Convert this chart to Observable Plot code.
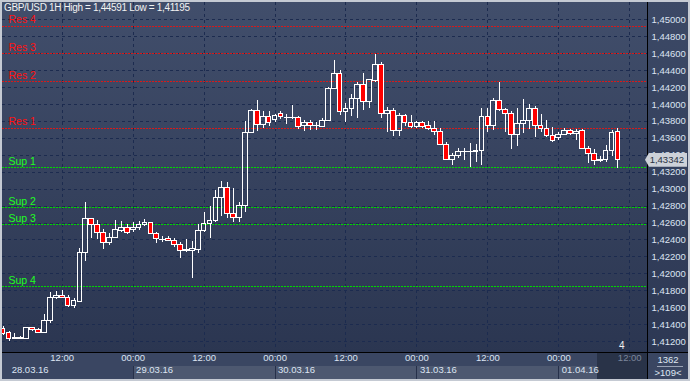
<!DOCTYPE html>
<html><head><meta charset="utf-8">
<script src="https://cdn.jsdelivr.net/npm/d3@7"></script>
<script src="https://cdn.jsdelivr.net/npm/@observablehq/plot@0.6"></script>
<style>
body{margin:0;background:#c5cad3;}
#wrap{position:relative;width:690px;height:381px;overflow:hidden;background:#c5cad3;font-family:"Liberation Sans",Arial,sans-serif;}
.abs{position:absolute;}
#chart svg{position:absolute;left:0;top:0;}
</style></head><body>
<div id="wrap">
  <div class="abs" style="left:2px;top:2px;width:645px;height:350px;background:linear-gradient(#414e6b,#2b3651);"></div>
  <div class="abs" style="left:648px;top:2px;width:40px;height:350px;background:linear-gradient(#3c4966,#2d3854);"></div>
  <div class="abs" style="left:2px;top:353px;width:645px;height:26px;background:#3a4662;"></div>
  <div class="abs" style="left:133px;top:366px;width:464px;height:13px;background:#4d5870;"></div>
  <div class="abs" style="left:597px;top:353px;width:50px;height:26px;background:#293348;"></div>
  <div class="abs" style="left:648px;top:353px;width:40px;height:26px;background:#3a4662;"></div>
  <div class="abs" style="left:647px;top:2px;width:1px;height:377px;background:#000;"></div>
  <div class="abs" style="left:2px;top:352px;width:686px;height:1px;background:#000;"></div>
  <div id="chart"></div>
  <div id="title" class="abs" style="left:4px;top:2px;color:#f2f2f2;font-size:10px;letter-spacing:-0.35px;white-space:nowrap;"></div>
  <div id="ind" class="abs" style="left:619px;top:340px;color:#f0f0f0;font-size:10px;"></div>
  <div id="price" class="abs" style="left:645px;width:42px;height:14px;background:#cdd1d8;clip-path:polygon(0 50%,4px 0,100% 0,100% 100%,4px 100%);color:#2a3242;font-size:9.5px;line-height:14px;text-align:right;box-sizing:border-box;padding-right:3px;"></div>
  <div id="bars" class="abs" style="left:648px;top:354px;width:40px;text-align:center;color:#dfe6f2;font-size:9.5px;"></div>
  <div class="abs" style="left:657px;top:366px;width:26px;height:1px;background:#9aa3b5;"></div>
  <div id="vis" class="abs" style="left:648px;top:367px;width:40px;text-align:center;color:#dfe6f2;font-size:9.5px;"></div>
</div>
<script>
const title = "GBP/USD 1H High = 1,44591 Low = 1,41195";
const startHour = 2; // first candle: 28.03.16 02:00
const opens = [1.41354,1.41298,1.41240,1.41236,1.41232,1.41362,1.41339,1.41307,1.41440,1.41720,
1.41744,1.41717,1.41622,1.41673,1.42248,1.42650,1.42574,1.42484,1.42364,1.42425,
1.42508,1.42543,1.42515,1.42543,1.42580,1.42606,1.42470,1.42405,1.42413,1.42390,
1.42343,1.42275,1.42272,1.42287,1.42508,1.42586,1.42626,1.42898,1.43016,1.42709,
1.42662,1.42800,1.43661,1.43925,1.43760,1.43854,1.43814,1.43893,1.43846,1.43842,
1.43843,1.43748,1.43784,1.43746,1.43736,1.43807,1.44185,1.44362,1.43913,1.43949,
1.44067,1.44232,1.44027,1.44275,1.44469,1.43890,1.43925,1.43684,1.43866,1.43784,
1.43736,1.43784,1.43740,1.43716,1.43677,1.43524,1.43347,1.43386,1.43436,1.43434,
1.43436,1.43448,1.43854,1.43743,1.44035,1.43937,1.43890,1.43642,1.43772,1.43799,
1.43949,1.43743,1.43713,1.43625,1.43606,1.43642,1.43684,1.43649,1.43684,1.43476,
1.43417,1.43335,1.43342,1.43453,1.43673];
const highs = [1.41378,1.41319,1.41295,1.41263,1.41366,1.41369,1.41358,1.41523,1.41783,1.41795,
1.41803,1.41744,1.41712,1.42302,1.42839,1.42653,1.42630,1.42520,1.42473,1.42626,
1.42614,1.42579,1.42602,1.42621,1.42638,1.42610,1.42488,1.42444,1.42441,1.42413,
1.42366,1.42402,1.42385,1.42582,1.42724,1.42795,1.42984,1.43090,1.43075,1.43004,
1.42842,1.43799,1.43937,1.44047,1.43917,1.43917,1.43878,1.43917,1.43878,1.43988,
1.43858,1.43807,1.43807,1.43784,1.43831,1.44204,1.44519,1.44401,1.44008,1.44121,
1.44263,1.44362,1.44289,1.44591,1.44492,1.43961,1.43949,1.43890,1.43878,1.43866,
1.43799,1.43799,1.43799,1.43799,1.43713,1.43554,1.43417,1.43484,1.43484,1.43536,
1.43527,1.43949,1.43949,1.44067,1.44263,1.43949,1.43917,1.43949,1.44059,1.43996,
1.43980,1.43878,1.43814,1.43725,1.43673,1.43713,1.43704,1.43701,1.43701,1.43504,
1.43468,1.43389,1.43515,1.43693,1.43713];
const lows = [1.41271,1.41195,1.41224,1.41221,1.41230,1.41319,1.41295,1.41303,1.41417,1.41697,
1.41705,1.41602,1.41594,1.41665,1.42149,1.42417,1.42405,1.42293,1.42340,1.42413,
1.42484,1.42461,1.42491,1.42512,1.42559,1.42464,1.42354,1.42370,1.42382,1.42314,
1.42177,1.42248,1.41948,1.42243,1.42488,1.42421,1.42606,1.42680,1.42657,1.42602,
1.42606,1.42728,1.43654,1.43681,1.43720,1.43740,1.43791,1.43826,1.43763,1.43826,
1.43708,1.43684,1.43693,1.43693,1.43725,1.43799,1.44173,1.43866,1.43791,1.43862,
1.43838,1.43929,1.43949,1.44256,1.43838,1.43673,1.43622,1.43622,1.43743,1.43713,
1.43722,1.43716,1.43696,1.43634,1.43515,1.43338,1.43279,1.43365,1.43338,1.43259,
1.43311,1.43279,1.43673,1.43693,1.43917,1.43665,1.43465,1.43504,1.43654,1.43701,
1.43606,1.43673,1.43606,1.43554,1.43575,1.43634,1.43634,1.43578,1.43465,1.43299,
1.43279,1.43311,1.43318,1.43389,1.43240];
const closes = [1.41295,1.41232,1.41236,1.41240,1.41362,1.41339,1.41307,1.41445,1.41717,1.41744,
1.41720,1.41622,1.41681,1.42248,1.42650,1.42579,1.42484,1.42364,1.42425,1.42512,
1.42543,1.42484,1.42547,1.42571,1.42606,1.42473,1.42411,1.42403,1.42390,1.42343,
1.42275,1.42277,1.42295,1.42508,1.42591,1.42626,1.42898,1.43016,1.42709,1.42662,
1.42801,1.43665,1.43925,1.43760,1.43854,1.43784,1.43866,1.43854,1.43842,1.43838,
1.43736,1.43784,1.43748,1.43742,1.43807,1.44185,1.44362,1.43913,1.43949,1.44067,
1.44232,1.44027,1.44283,1.44469,1.43890,1.43925,1.43684,1.43866,1.43784,1.43736,
1.43784,1.43736,1.43716,1.43677,1.43524,1.43347,1.43386,1.43436,1.43434,1.43436,
1.43453,1.43854,1.43743,1.44035,1.43932,1.43890,1.43642,1.43772,1.43799,1.43949,
1.43743,1.43713,1.43625,1.43563,1.43642,1.43684,1.43649,1.43673,1.43476,1.43417,
1.43335,1.43339,1.43453,1.43665,1.43342];

const levelNames = ["Res 4","Res 3","Res 2","Res 1","Sup 1","Sup 2","Sup 3","Sup 4"];
const levelValues = [1.44921,1.44598,1.44268,1.43720,1.43252,1.42783,1.42579,1.41847];

const yTicks = [1.412,1.414,1.416,1.418,1.420,1.422,1.424,1.426,1.428,1.430,
1.432,1.434,1.436,1.438,1.440,1.442,1.444,1.446,1.448,1.450];
const timeTickHours = [12,24,36,48,60,72,84,96,108];
const timeTickLabels = ["12:00","00:00","12:00","00:00","12:00","00:00","12:00","00:00","12:00"];
const dayStartHours = [0,24,48,72,96];
const dateLabels = ["28.03.16","29.03.16","30.03.16","31.03.16","01.04.16"];
const lastBarHour = 106;
const barsTotal = "1362";
const barsVisible = ">109<";
const indicatorText = "4";

const candles = opens.map((o, i) => ({h: startHour + i, open: o, high: highs[i], low: lows[i], close: closes[i]}));
const upC = candles.filter(d => d.close >= d.open);
const downC = candles.filter(d => d.close < d.open);
const levels = levelNames.map((n, i) => ({name: n, value: levelValues[i]}));
const res = levels.filter(d => d.name.startsWith("Res"));
const sup = levels.filter(d => d.name.startsWith("Sup"));
const fmt = v => v.toFixed(5).replace(".", ",");
const ticks = timeTickHours.map((h, i) => ({h, label: timeTickLabels[i]}));
const pastTicks = ticks.filter(d => d.h <= lastBarHour);
const futureTicks = ticks.filter(d => d.h > lastBarHour);
const xLeft = 1.9;
const firstDate = [{h: xLeft + 1.55, label: dateLabels[0]}];
const otherDates = dayStartHours.slice(1).map((h, i) => ({h: h + 0.5, label: dateLabels[i + 1]}));

const gridC = "#1c2b4f";
const txtC = "#dce4f2";
const chart = Plot.plot({
  width: 690, height: 381,
  marginLeft: 2, marginRight: 43, marginTop: 2, marginBottom: 29,
  style: {background: "transparent", fontFamily: "Liberation Sans, Arial, sans-serif", fontSize: "9.5px", overflow: "visible"},
  x: {type: "linear", domain: [xLeft, 111.0], axis: null},
  y: {type: "linear", domain: [1.41071, 1.45204], axis: null},
  marks: [
    Plot.ruleY(yTicks, {y: d => d, stroke: gridC, strokeDasharray: "3,3", shapeRendering: "crispEdges"}),
    Plot.ruleX(timeTickHours, {x: d => d, stroke: gridC, strokeDasharray: "3,3", shapeRendering: "crispEdges"}),
    Plot.ruleY(res, {y: "value", stroke: "#d81a1a", strokeDasharray: "2,1", shapeRendering: "crispEdges"}),
    Plot.ruleY(sup, {y: "value", stroke: "#00d800", strokeDasharray: "2,1", shapeRendering: "crispEdges"}),
    Plot.text(res, {y: "value", text: "name", frameAnchor: "left", textAnchor: "start", lineAnchor: "bottom", dx: 6, dy: -3, fill: "#ff1010", fontSize: 10.5}),
    Plot.text(sup, {y: "value", text: "name", frameAnchor: "left", textAnchor: "start", lineAnchor: "bottom", dx: 6, dy: -3, fill: "#20ff20", fontSize: 10.5}),
    Plot.ruleX(candles, {x: "h", y1: "high", y2: d => Math.max(d.open, d.close), stroke: "#ffffff", clip: true, shapeRendering: "crispEdges"}),
    Plot.ruleX(candles, {x: "h", y1: "low", y2: d => Math.min(d.open, d.close), stroke: "#ffffff", clip: true, shapeRendering: "crispEdges"}),
    Plot.rect(upC, {x1: d => d.h - 0.4, x2: d => d.h + 0.4, y1: "open", y2: "close", fill: "none", stroke: "#ffffff", clip: true, shapeRendering: "crispEdges"}),
    Plot.rect(downC, {x1: d => d.h - 0.4, x2: d => d.h + 0.4, y1: "open", y2: "close", fill: "#ff0000", stroke: "#ffffff", clip: true, shapeRendering: "crispEdges"}),
    Plot.text(yTicks, {y: d => d, text: d => fmt(d), frameAnchor: "right", textAnchor: "start", dx: 4, fill: txtC}),
    Plot.text(pastTicks, {x: "h", text: "label", frameAnchor: "bottom", dy: 8, fill: txtC}),
    Plot.text(futureTicks, {x: "h", text: "label", frameAnchor: "bottom", dy: 8, fill: "#7c869b"}),
    Plot.text(firstDate, {x: "h", text: "label", frameAnchor: "bottom", textAnchor: "start", dy: 20, fill: txtC}),
    Plot.text(otherDates, {x: "h", text: "label", frameAnchor: "bottom", textAnchor: "start", dy: 20, fill: txtC}),
    Plot.ruleX(dayStartHours.slice(1), {x: d => d, stroke: "#26304a", insetTop: 364, insetBottom: -27, shapeRendering: "crispEdges"})
  ]
});
document.getElementById("chart").appendChild(chart);
document.getElementById("title").textContent = title;
document.getElementById("ind").textContent = indicatorText;
document.getElementById("bars").textContent = barsTotal;
document.getElementById("vis").textContent = barsVisible;
const py = chart.scale("y").apply(closes[closes.length - 1]);
const p = document.getElementById("price");
p.textContent = fmt(closes[closes.length - 1]);
p.style.top = (py - 7) + "px";
</script>
</body></html>
